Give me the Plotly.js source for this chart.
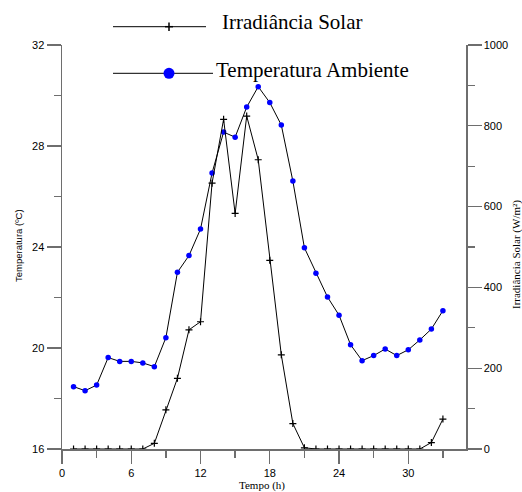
<!DOCTYPE html>
<html>
<head>
<meta charset="utf-8">
<script src="https://cdn.plot.ly/plotly-3.0.1.min.js"></script>
<style>html,body{margin:0;padding:0;background:#fff;}#chart{width:522px;height:492px;}</style>
</head>
<body>
<div id="chart"></div>
<script>
const hours = [1,2,3,4,5,6,7,8,9,10,11,12,13,14,15,16,17,18,19,20,21,22,23,24,25,26,27,28,29,30,31,32,33];
const temperatura = [18.47,18.31,18.53,19.62,19.47,19.47,19.41,19.26,20.41,23.0,23.66,24.71,26.93,28.55,28.35,29.54,30.35,29.72,28.83,26.61,23.97,22.96,22.02,21.3,20.13,19.5,19.7,19.96,19.7,19.93,20.32,20.75,21.48];
const irradiancia = [0,0,0,0,0,0,0,14,97,175,295,315,658,816,583,824,716,467,233,63,3,0,0,0,0,0,0,0,0,0,0,16,74];
const xTicks = [0,6,12,18,24,30];
const tempTicks = [16,20,24,28,32];
const irrTicks = [0,200,400,600,800,1000];
const legendNames = ["Irradiância Solar","Temperatura Ambiente"];

const axisColor = '#6e6e6e';
const tickFont = {family:'Liberation Sans, Arial, sans-serif', size:11, color:'#000'};

// px -> paper helpers (plot area 62..466 x, 45..449 y)
const px = v => (v-62)/404;
const py = v => (449-v)/404;

const traces = [
  {x:hours, y:irradiancia, yaxis:'y2', mode:'lines+markers', name:legendNames[0],
   line:{color:'#000', width:1},
   marker:{symbol:'cross-thin-open', size:5, color:'#000', line:{color:'#000', width:1.2}},
   showlegend:false},
  {x:hours, y:temperatura, yaxis:'y', mode:'lines+markers', name:legendNames[1],
   line:{color:'#000', width:1},
   marker:{symbol:'circle', size:5.5, color:'#0000ff'},
   showlegend:false}
];

const layout = {
  width:522, height:492,
  margin:{l:62, r:56, t:45, b:43},
  paper_bgcolor:'#fff', plot_bgcolor:'#fff',
  showlegend:false,
  xaxis:{range:[0,35], tickvals:xTicks, ticktext:xTicks.map(String), ticks:'outside', ticklen:13, tickwidth:1.3, tickcolor:axisColor,
         minor:{tickvals:[3,9,15,21,27,33], ticks:'outside', ticklen:7, tickwidth:1.3, tickcolor:axisColor},
         showline:true, linecolor:axisColor, linewidth:1.5, showgrid:false, zeroline:false, tickfont:tickFont, fixedrange:true},
  yaxis:{range:[16,32], tickvals:tempTicks, ticktext:tempTicks.map(String), ticks:'outside', ticklen:14, tickwidth:1.3, tickcolor:axisColor,
         minor:{tickvals:[18,22,26,30], ticks:'outside', ticklen:7, tickwidth:1.3, tickcolor:axisColor},
         showline:true, linecolor:axisColor, linewidth:1.5, showgrid:false, zeroline:false, tickfont:tickFont, fixedrange:true},
  yaxis2:{range:[0,1000], overlaying:'y', side:'right', tickvals:irrTicks, ticktext:irrTicks.map(String), ticks:'outside', ticklen:14, tickwidth:1.3, tickcolor:axisColor,
         minor:{tickvals:[100,300,500,700,900], ticks:'outside', ticklen:7, tickwidth:1.3, tickcolor:axisColor},
         showline:true, linecolor:axisColor, linewidth:1.5, showgrid:false, zeroline:false, tickfont:tickFont, fixedrange:true},
  shapes:[
    {type:'line', xref:'paper', yref:'paper', x0:px(113), x1:px(206), y0:py(26.7), y1:py(26.7), line:{color:'#000', width:1}},
    {type:'line', xref:'paper', yref:'paper', x0:px(165), x1:px(173), y0:py(26.7), y1:py(26.7), line:{color:'#000', width:1.5}},
    {type:'line', xref:'paper', yref:'paper', x0:px(169), x1:px(169), y0:py(22.5), y1:py(31), line:{color:'#000', width:1.5}},
    {type:'line', xref:'paper', yref:'paper', x0:px(113), x1:px(213), y0:py(73.3), y1:py(73.3), line:{color:'#000', width:1}},
    {type:'circle', xref:'paper', yref:'paper', x0:px(163.5), x1:px(174.5), y0:py(78.8), y1:py(67.8), fillcolor:'#0000ff', line:{color:'#0000ff', width:0}}
  ],
  annotations:[
    {text:legendNames[0], xref:'paper', yref:'paper', x:px(220), y:py(22), xanchor:'left', yanchor:'middle', showarrow:false,
     font:{family:'Liberation Serif, Times New Roman, serif', size:21, color:'#000'}},
    {text:legendNames[1], xref:'paper', yref:'paper', x:px(214), y:py(70), xanchor:'left', yanchor:'middle', showarrow:false,
     font:{family:'Liberation Serif, Times New Roman, serif', size:21, color:'#000'}},
    {text:'Temperatura (ºC)', xref:'paper', yref:'paper', x:px(18), y:py(246), xanchor:'center', yanchor:'middle', textangle:-90, showarrow:false,
     font:{family:'Liberation Sans, Arial, sans-serif', size:9.5, color:'#000'}},
    {text:'Irradiância Solar (W/m²)', xref:'paper', yref:'paper', x:px(516), y:py(255), xanchor:'center', yanchor:'middle', textangle:-90, showarrow:false,
     font:{family:'Liberation Serif, Times New Roman, serif', size:11, color:'#000'}},
    {text:'Tempo (h)', xref:'paper', yref:'paper', x:px(262), y:py(485), xanchor:'center', yanchor:'middle', showarrow:false,
     font:{family:'Liberation Serif, Times New Roman, serif', size:11, color:'#000'}}
  ]
};

Plotly.newPlot('chart', traces, layout, {displayModeBar:false, staticPlot:true});
</script>
</body>
</html>
